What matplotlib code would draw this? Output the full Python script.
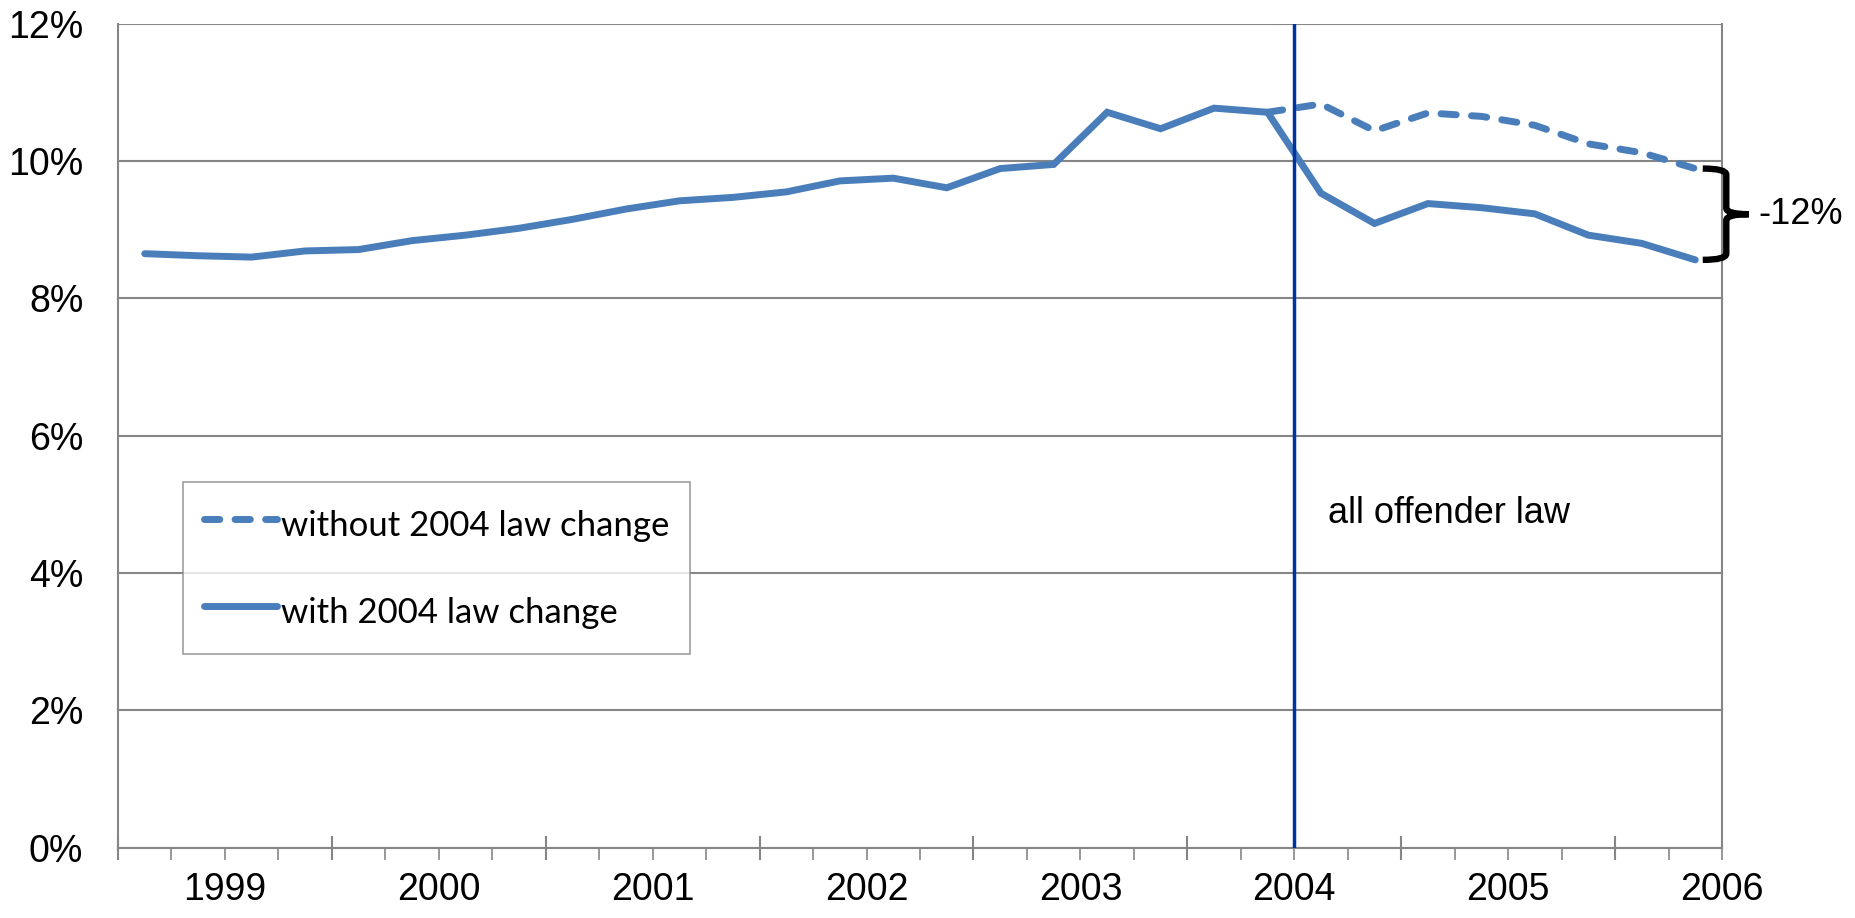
import matplotlib
matplotlib.use("Agg")
import matplotlib.pyplot as plt
from matplotlib.path import Path
from matplotlib.patches import PathPatch
import numpy as np

# quarterly data, 1998 Q3 .. 2005 Q4, rate in percent
years = [1998, 1998] + [y for y in range(1999, 2006) for _ in range(4)]
quarters = [3, 4] + [1, 2, 3, 4] * 7
with_law = [8.65, 8.62, 8.60, 8.69, 8.71, 8.84, 8.92, 9.02, 9.15, 9.30,
            9.42, 9.47, 9.55, 9.71, 9.75, 9.61, 9.89, 9.95, 10.71, 10.47,
            10.77, 10.71, 9.53, 9.09, 9.38, 9.32, 9.23, 8.92, 8.80, 8.56]
# counterfactual starts at 2003 Q4
without_start = 21
without_law = [10.71, 10.83, 10.44, 10.70, 10.65, 10.52, 10.25, 10.12, 9.89]

year_labels = ["1999", "2000", "2001", "2002", "2003", "2004", "2005", "2006"]
y_ticks = [0, 2, 4, 6, 8, 10, 12]
law_year = 2004
gap_label = "-12%"

blue = "#4A7EBB"
grid = "#868686"
arial = "Liberation Sans"

# mid-quarter positions in years
x = np.array(years) + (np.array(quarters) - 1) / 4 + 0.125
x_without = x[without_start:]

fig = plt.figure(figsize=(18.56, 9.18), dpi=100)
ax = fig.add_axes([118 / 1856, 1 - 847.5 / 918, 1604 / 1856, 823.8 / 918])

ax.plot(x_without, without_law, color=blue, lw=5, ls=(0, (2.2, 2.2)),
        dash_capstyle="round", solid_capstyle="round",
        label="without 2004 law change", zorder=3)
ax.plot(x, with_law, color=blue, lw=5, solid_capstyle="round",
        solid_joinstyle="miter", label="with 2004 law change", zorder=4)

ax.axvline(law_year, color="#0033A0", lw=2.5, zorder=5)
ax.text(law_year + 0.16, 4.87, "all offender law", fontsize=26,
        family=arial, va="center", ha="left")

ax.set_xlim(1998.5, 2006.0)
ax.set_ylim(0, 12)

ax.set_xticks(np.arange(1998.5, 2006.0, 1.0))
ax.set_xticks(np.arange(1998.5, 2006.01, 0.25), minor=True)
ax.set_xticklabels([])
ax.tick_params(axis="x", which="major", direction="inout", length=17,
               width=1.5, color=grid)
ax.tick_params(axis="x", which="minor", direction="out", length=8.5,
               width=1.2, color=grid)
for i, lab in enumerate(year_labels):
    ax.text(1999 + i, -0.35, lab, ha="center", va="top", fontsize=27,
            family=arial, clip_on=False)

ax.set_yticks(y_ticks)
ax.set_yticklabels([f"{v}%" for v in y_ticks], fontsize=27, family=arial)
ax.tick_params(axis="y", length=0, pad=25)
ax.yaxis.grid(True, color=grid, lw=1.5)
ax.set_axisbelow(True)

for side in ["left", "bottom", "right"]:
    ax.spines[side].set_color(grid)
    ax.spines[side].set_linewidth(1.5)
ax.spines["top"].set_visible(False)

# curly brace between the two end values
top = without_law[-1]
bot = with_law[-1]
mid = (top + bot) / 2
x0, xv, xt = 2005.91, 2006.02, 2006.125
r = 0.09
verts = [(x0, top), (xv, top), (xv, top - r),
         (xv, mid + r), (xv, mid), (xt, mid),
         (xv, mid), (xv, mid - r),
         (xv, bot + r), (xv, bot), (x0, bot)]
codes = [Path.MOVETO, Path.CURVE3, Path.CURVE3,
         Path.LINETO, Path.CURVE3, Path.CURVE3,
         Path.CURVE3, Path.CURVE3,
         Path.LINETO, Path.CURVE3, Path.CURVE3]
ax.add_patch(PathPatch(Path(verts, codes), fill=False, lw=4.6,
                       edgecolor="black", clip_on=False, zorder=6,
                       capstyle="butt"))
ax.text(xt + 0.045, mid, gap_label, fontsize=26, family=arial,
        va="center", ha="left", clip_on=False)

leg = ax.legend(loc="upper left", bbox_to_anchor=(0.0408, 0.4437),
                prop={"family": "Lato", "size": 25}, frameon=True,
                fancybox=False, edgecolor=grid, handlelength=2.1,
                handleheight=1.55, handletextpad=0.1, borderpad=0.6,
                labelspacing=1.25, borderaxespad=0)
leg.get_frame().set_linewidth(1.2)

fig.savefig("out.png", dpi=100)
